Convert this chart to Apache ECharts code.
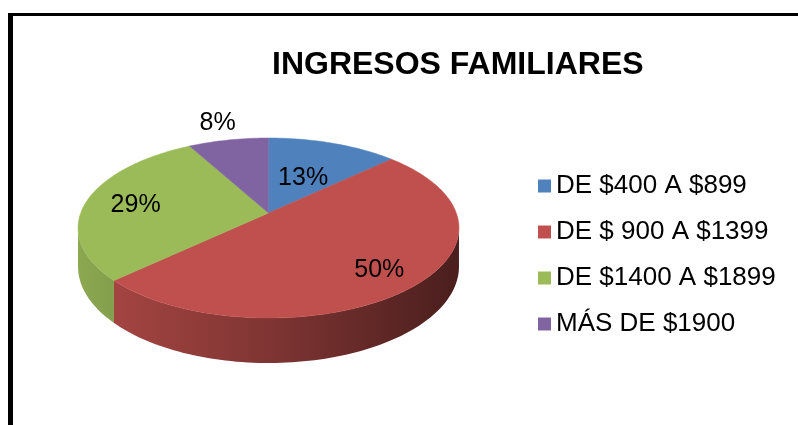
<!DOCTYPE html>
<html>
<head>
<meta charset="utf-8">
<script src="https://cdn.jsdelivr.net/npm/echarts@6/dist/echarts.min.js"></script>
<style>
html,body{margin:0;padding:0;background:#fff;}
#chart{width:798px;height:425px;}
</style>
</head>
<body>
<div id="chart"></div>
<script>
const categories = ['DE $400 A $899', 'DE $ 900 A $1399', 'DE $1400 A $1899', 'MÁS DE $1900'];
const values = [13, 50, 29, 8];
const colors = ['#4f81bd', '#c0504d', '#9bbb59', '#8064a2'];
const labelRadius = [0.5, 0.78, 0.73, 1.32];

// 3D projection settings (style)
const CX = 268.5, CY = 213, R = 187.8, RY = 87.5, K = 0.1667, H = 37.5;
const total = values.reduce((a, b) => a + b, 0);

function proj(theta, f) {
  const c = f * Math.cos(theta);
  const s = 1 / (1 + K * c);
  return [CX + R * f * Math.sin(theta) * s, CY - RY * f * Math.cos(theta) * s];
}
function depth(theta) {
  const s = 1 / (1 + K * Math.cos(theta));
  return H * s;
}
function shade(hex, k) {
  const n = parseInt(hex.slice(1), 16);
  const r = Math.round(((n >> 16) & 255) * k), g = Math.round(((n >> 8) & 255) * k), b = Math.round((n & 255) * k);
  return 'rgb(' + r + ',' + g + ',' + b + ')';
}

const chart = echarts.init(document.getElementById('chart'), null, {renderer: 'canvas'});

function renderItem(params, api) {
  const idx = params.seriesIndex;
  const v = api.value(0);
  let before = 0;
  for (let i = 0; i < idx; i++) before += values[i];
  const a0 = before / total * Math.PI * 2;
  const a1 = (before + v) / total * Math.PI * 2;
  const children = [];
  const color = colors[idx];

  // side wall
  const visA = Math.acos(-K), visB = Math.PI * 2 - Math.acos(-K);
  const w0 = Math.max(a0, visA), w1 = Math.min(a1, visB);
  if (w1 > w0) {
    const topPts = [], botPts = [];
    const n = Math.max(4, Math.ceil((w1 - w0) * 40));
    for (let i = 0; i <= n; i++) {
      const t = w0 + (w1 - w0) * i / n;
      const p = proj(t, 1);
      topPts.push(p);
      botPts.push([p[0], p[1] + depth(t)]);
    }
    const pts = topPts.concat(botPts.reverse());
    const xl = CX - R * 1.03, xr = CX + R * 1.03;
    children.push({
      type: 'polygon',
      z2: 1,
      shape: {points: pts},
      style: {
        fill: new echarts.graphic.LinearGradient(xl, 0, xr, 0, [
          {offset: 0, color: shade(color, 0.9)},
          {offset: 0.5, color: shade(color, 0.66)},
          {offset: 1, color: shade(color, 0.38)}
        ], true)
      }
    });
  }

  // top face
  const face = [proj(0, 0)];
  const m = Math.max(4, Math.ceil((a1 - a0) * 40));
  for (let i = 0; i <= m; i++) face.push(proj(a0 + (a1 - a0) * i / m, 1));
  children.push({
    type: 'polygon',
    z2: 2,
    shape: {points: face},
    style: {fill: color, stroke: color, lineWidth: 0.5}
  });

  // label
  const mid = (a0 + a1) / 2;
  const lp = proj(mid, labelRadius[idx]);
  children.push({
    type: 'text',
    z2: 3,
    style: {
      x: lp[0], y: lp[1] + 2,
      text: Math.round(v / total * 100) + '%',
      fill: '#000',
      font: '25px "Liberation Sans", Arial, sans-serif',
      align: 'center',
      verticalAlign: 'middle'
    }
  });
  return {type: 'group', children: children};
}

const series = categories.map((name, i) => ({
  type: 'custom',
  name: name,
  coordinateSystem: 'none',
  itemStyle: {color: colors[i]},
  renderItem: renderItem,
  data: [[values[i]]],
  silent: true
}));

chart.setOption({
  animation: false,
  backgroundColor: '#fff',
  title: {
    text: 'INGRESOS FAMILIARES',
    left: 272,
    top: 47,
    padding: 0,
    textStyle: {fontFamily: '"Liberation Sans", Arial, sans-serif', fontWeight: 'bold', fontSize: 32, lineHeight: 36, color: '#000'}
  },
  legend: {
    orient: 'vertical',
    left: 538,
    top: 171,
    padding: 0,
    icon: 'rect',
    itemWidth: 13,
    itemHeight: 13,
    itemGap: 16,
    data: categories,
    textStyle: {fontFamily: '"Liberation Sans", Arial, sans-serif', fontSize: 26, lineHeight: 30, color: '#000'}
  },
  graphic: [
    {type: 'line', shape: {x1: 8, y1: 14.5, x2: 798, y2: 14.5}, style: {stroke: '#000', lineWidth: 3}},
    {type: 'line', shape: {x1: 10.5, y1: 13, x2: 10.5, y2: 425}, style: {stroke: '#000', lineWidth: 5}}
  ],
  series: series
});
</script>
</body>
</html>
